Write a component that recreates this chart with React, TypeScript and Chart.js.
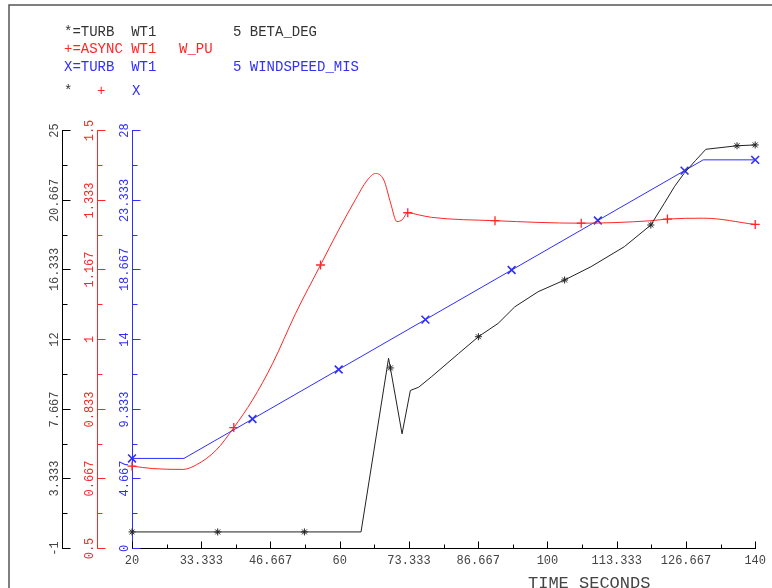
import React, { useEffect, useRef } from 'react';
import { Chart, registerables } from 'chart.js';

Chart.register(...registerables);

// ---- Data ----
const timeBeta = [20, 36.5, 53.2, 64.1, 69.4, 69.75, 72.0, 73.6, 75.2, 77.7, 82.9, 86.7, 90.5, 93.7, 98.2, 103.3, 108.4, 114.8, 119.9, 122.5, 124.5, 126.3, 128.5, 130.5, 136.5, 140];
const betaDeg = [0, 0, 0, 0, 10.8, 10.2, 6.1, 8.8, 9.0, 9.66, 11.1, 12.14, 12.97, 14.0, 14.94, 15.67, 16.5, 17.74, 19.09, 20.44, 21.5, 22.3, 23.1, 23.8, 24.02, 24.07];
const betaMarks = [0, 1, 2, 5, 11, 15, 18, 24, 25];

const timePu = [20, 24, 29.8, 32.4, 36.2, 39.6, 43.2, 47.1, 51.5, 56.3, 59.8, 63.0, 65.3, 66.9, 68.5, 69.8, 71.0, 72.0, 73.1, 75.2, 77.7, 89.9, 106.5, 119.9, 123.1, 130.1, 140];
const wPu = [0.696, 0.690, 0.688, 0.699, 0.734, 0.788, 0.854, 0.942, 1.061, 1.177, 1.261, 1.333, 1.380, 1.396, 1.380, 1.325, 1.281, 1.285, 1.302, 1.297, 1.291, 1.283, 1.277, 1.283, 1.287, 1.289, 1.274];
const puMarks = [0, 5, 9, 18, 21, 22, 24, 26];

const timeWind = [20, 30, 43.2, 59.8, 76.5, 93.1, 109.7, 126.4, 130, 140];
const windSpeed = [6, 6, 8.64, 11.96, 15.3, 18.62, 21.94, 25.28, 26, 26];
const windMarks = [0, 2, 3, 4, 5, 6, 7, 9];

const xTickLabels = ['20', '33.333', '46.667', '60', '73.333', '86.667', '100', '113.333', '126.667', '140'];
const betaTickLabels = ['-1', '3.333', '7.667', '12', '16.333', '20.667', '25'];
const puTickLabels = ['0.5', '0.667', '0.833', '1', '1.167', '1.333', '1.5'];
const windTickLabels = ['0', '4.667', '9.333', '14', '18.667', '23.333', '28'];

const BLACK = '#222222';
const RED = '#ff2626';
const BLUE = '#2f2fff';
const MONO = '"Liberation Mono", "DejaVu Sans Mono", monospace';

const yAxisDefs = [
  { id: 'yBeta', labels: betaTickLabels, line: '#000000', text: '#444444' },
  { id: 'yPu', labels: puTickLabels, line: RED, text: RED },
  { id: 'yWind', labels: windTickLabels, line: BLUE, text: BLUE },
];

const overlayPlugin = {
  id: 'overlay',
  afterDraw(chart: any) {
    const ctx = chart.ctx as CanvasRenderingContext2D;
    ctx.save();

    // frame
    ctx.strokeStyle = '#555555';
    ctx.lineWidth = 1.5;
    ctx.beginPath();
    ctx.moveTo(9, 588);
    ctx.lineTo(9, 5);
    ctx.lineTo(772, 5);
    ctx.stroke();

    // y axes ticks and rotated labels
    ctx.lineWidth = 1;
    ctx.font = `12px ${MONO}`;
    for (const def of yAxisDefs) {
      const sc = chart.scales[def.id];
      const x0 = Math.round(sc.right) + 0.5;
      const vals = def.labels.map(Number);
      const n = vals.length - 1;
      ctx.strokeStyle = def.line;
      for (let i = 0; i <= 2 * n; i++) {
        const v = i % 2 === 0 ? vals[i / 2] : (vals[(i - 1) / 2] + vals[(i + 1) / 2]) / 2;
        const y = Math.round(sc.getPixelForValue(v)) + 0.5;
        const len = i % 2 === 0 ? 8 : 5;
        ctx.beginPath();
        ctx.moveTo(x0, y);
        ctx.lineTo(x0 + len, y);
        ctx.stroke();
        if (i % 2 === 0) {
          ctx.save();
          ctx.translate(x0 - 8, y);
          ctx.rotate(-Math.PI / 2);
          ctx.fillStyle = def.text;
          ctx.textAlign = 'center';
          ctx.textBaseline = 'middle';
          ctx.fillText(def.labels[i / 2], 0, 0);
          ctx.restore();
        }
      }
    }

    // x axis ticks (major + minor, pointing up)
    const xs = chart.scales.x;
    const xv = xTickLabels.map(Number);
    const yb = Math.round(xs.top) + 0.5;
    ctx.strokeStyle = '#000000';
    for (let i = 0; i <= 2 * (xv.length - 1); i++) {
      const v = i % 2 === 0 ? xv[i / 2] : (xv[(i - 1) / 2] + xv[(i + 1) / 2]) / 2;
      const x = Math.round(xs.getPixelForValue(v)) + 0.5;
      const len = i % 2 === 0 ? 7 : 4;
      ctx.beginPath();
      ctx.moveTo(x, yb);
      ctx.lineTo(x, yb - len);
      ctx.stroke();
    }

    // x axis title (partly cut by the bottom edge, as in the reference)
    ctx.fillStyle = '#444444';
    ctx.font = `17px ${MONO}`;
    ctx.textAlign = 'left';
    ctx.textBaseline = 'top';
    ctx.fillText('TIME_SECONDS', 528, 575);

    // legend block
    ctx.font = `14px ${MONO}`;
    ctx.textBaseline = 'middle';
    ctx.fillStyle = '#333333';
    ctx.fillText('*=TURB  WT1', 64, 32);
    ctx.fillText('5 BETA_DEG', 233, 32);
    ctx.fillStyle = RED;
    ctx.fillText('+=ASYNC WT1', 64, 49);
    ctx.fillText('W_PU', 179, 49);
    ctx.fillStyle = BLUE;
    ctx.fillText('X=TURB  WT1', 64, 67);
    ctx.fillText('5 WINDSPEED_MIS', 233, 67);
    ctx.fillStyle = '#333333';
    ctx.fillText('*', 64, 91);
    ctx.fillStyle = RED;
    ctx.fillText('+', 97, 91);
    ctx.fillStyle = BLUE;
    ctx.fillText('X', 132, 91);

    ctx.restore();
  },
};

export default function App() {
  const ref = useRef<HTMLCanvasElement>(null);

  useEffect(() => {
    const canvas = ref.current!;
    const markRadius = (marks: number[], r: number) => (c: any) => (marks.includes(c.dataIndex) ? r : 0);

    const chart = new Chart(canvas, {
      type: 'line',
      data: {
        datasets: [
          {
            label: 'BETA_DEG',
            data: timeBeta.map((t, i) => ({ x: t, y: betaDeg[i] })),
            yAxisID: 'yBeta',
            borderColor: BLACK,
            backgroundColor: BLACK,
            borderWidth: 1,
            tension: 0,
            pointStyle: 'star',
            pointRadius: markRadius(betaMarks, 3.5),
            pointBorderWidth: 1,
            pointBorderColor: BLACK,
            clip: false,
          },
          {
            label: 'W_PU',
            data: timePu.map((t, i) => ({ x: t, y: wPu[i] })),
            yAxisID: 'yPu',
            borderColor: RED,
            backgroundColor: RED,
            borderWidth: 1,
            cubicInterpolationMode: 'monotone',
            pointStyle: 'cross',
            pointRadius: markRadius(puMarks, 4.5),
            pointBorderWidth: 1.3,
            pointBorderColor: RED,
            clip: false,
          },
          {
            label: 'WINDSPEED_MIS',
            data: timeWind.map((t, i) => ({ x: t, y: windSpeed[i] })),
            yAxisID: 'yWind',
            borderColor: BLUE,
            backgroundColor: BLUE,
            borderWidth: 1,
            tension: 0,
            pointStyle: 'crossRot',
            pointRadius: markRadius(windMarks, 5.5),
            pointBorderWidth: 1.6,
            pointBorderColor: BLUE,
            clip: false,
          },
        ],
      },
      options: {
        responsive: false,
        animation: false,
        events: [],
        layout: { padding: { left: 0, top: 130, right: 14, bottom: 0 } },
        plugins: {
          legend: { display: false },
          tooltip: { enabled: false },
          title: { display: false },
        },
        scales: {
          x: {
            type: 'linear',
            position: 'bottom',
            min: 20,
            max: 140,
            afterBuildTicks: (sc: any) => {
              sc.ticks = xTickLabels.map((l) => ({ value: Number(l) }));
            },
            afterFit: (sc: any) => {
              sc.height = 40;
            },
            grid: { display: true, drawOnChartArea: false, drawTicks: false },
            border: { display: true, color: '#000000', width: 1 },
            ticks: {
              autoSkip: false,
              maxRotation: 0,
              minRotation: 0,
              padding: 6,
              color: '#444444',
              font: { family: MONO, size: 12 },
              callback: (_v: any, i: number) => xTickLabels[i],
            },
          },
          yBeta: {
            type: 'linear',
            position: 'left',
            weight: 3,
            min: Number(betaTickLabels[0]),
            max: Number(betaTickLabels[betaTickLabels.length - 1]),
            afterFit: (sc: any) => {
              sc.width = 62;
            },
            ticks: { display: false },
            grid: { display: true, drawOnChartArea: false, drawTicks: false },
            border: { display: true, color: '#000000', width: 1 },
          },
          yPu: {
            type: 'linear',
            position: 'left',
            weight: 2,
            min: Number(puTickLabels[0]),
            max: Number(puTickLabels[puTickLabels.length - 1]),
            afterFit: (sc: any) => {
              sc.width = 35;
            },
            ticks: { display: false },
            grid: { display: true, drawOnChartArea: false, drawTicks: false },
            border: { display: true, color: RED, width: 1 },
          },
          yWind: {
            type: 'linear',
            position: 'left',
            weight: 1,
            min: Number(windTickLabels[0]),
            max: Number(windTickLabels[windTickLabels.length - 1]),
            afterFit: (sc: any) => {
              sc.width = 35;
            },
            ticks: { display: false },
            grid: { display: true, drawOnChartArea: false, drawTicks: false },
            border: { display: true, color: BLUE, width: 1 },
          },
        },
      } as any,
      plugins: [overlayPlugin],
    });

    return () => chart.destroy();
  }, []);

  return (
    <div style={{ position: 'fixed', left: 0, top: 0, width: 772, height: 588, background: '#ffffff' }}>
      <canvas ref={ref} width={772} height={588} style={{ display: 'block' }} />
    </div>
  );
}
